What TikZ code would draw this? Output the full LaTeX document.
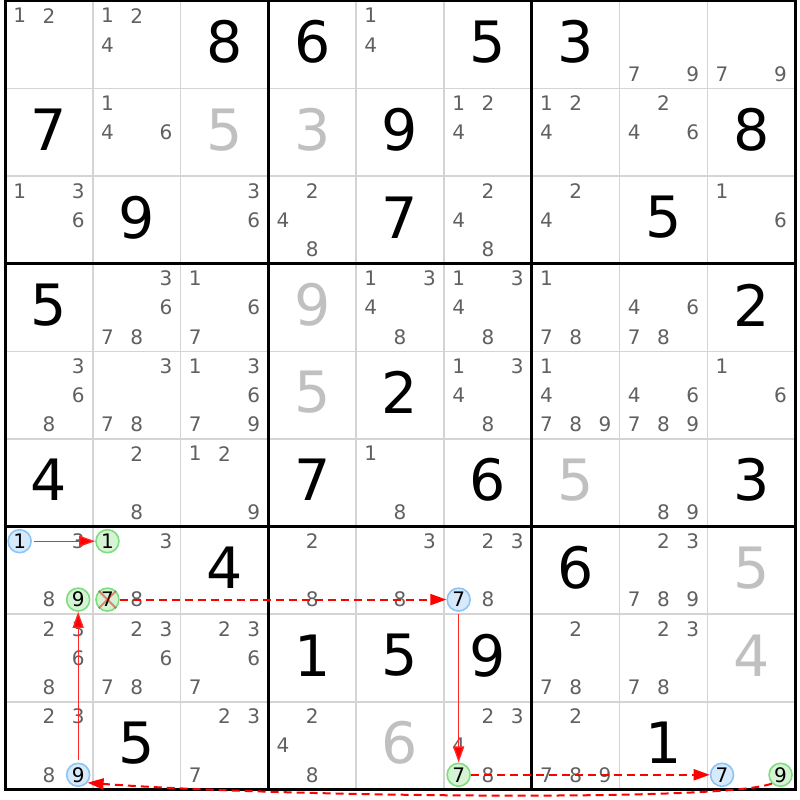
\documentclass[tikz,border=0pt]{standalone}
\usepackage{fontspec}
\setmainfont{DejaVu Sans}
\usetikzlibrary{arrows.meta}

\definecolor{candgray}{RGB}{96,96,96}
\definecolor{solvedgray}{RGB}{192,192,192}
\definecolor{thingrid}{RGB}{212,212,212}
\definecolor{onblue}{RGB}{140,196,244}
\definecolor{onbluefill}{RGB}{214,234,252}
\definecolor{offgreen}{RGB}{128,220,128}
\definecolor{offgreenfill}{RGB}{212,244,212}
\definecolor{linkred}{RGB}{255,0,0}

\begin{document}
\begin{tikzpicture}[x=87.8pt,y=-87.6pt,
  cand/.style={font=\fontsize{20}{20}\selectfont,text=candgray,inner sep=0pt},
  given/.style={font=\fontsize{57}{57}\selectfont,inner sep=0pt},
  solved/.style={given,text=solvedgray},
  oncand/.style={circle,draw=onblue,fill=onbluefill,line width=1.6pt,minimum size=23pt,inner sep=0pt,font=\fontsize{20}{20}\selectfont},
  offcand/.style={oncand,draw=offgreen,fill=offgreenfill},
  strong/.style={draw=linkred!85!white,line width=1.3pt,shorten <=2pt,-{Triangle[length=16pt,width=11pt,fill=linkred]}},
  weak/.style={draw=linkred,line width=2pt,dash pattern=on 8pt off 5pt,-{Triangle[length=16pt,width=11pt,fill=linkred]}},
  crossout/.style={draw=linkred,opacity=.45,line width=2pt}]

\useasboundingbox (-0.057,-0.0114) rectangle (9.0547,9.121);

% grid
\foreach \i in {1,2,4,5,7,8} {
  \draw[thingrid,line width=1.5pt] (\i,0) -- (\i,9);
  \draw[thingrid,line width=1.5pt] (0,\i) -- (9,\i);
}
\foreach \i in {0,3,6,9} {
  \draw[line width=3pt] (\i,-0.017) -- (\i,9.017);
  \draw[line width=3pt] (-0.017,\i) -- (9.017,\i);
}

% given digits
\foreach \r/\c/\v in {1/3/8, 1/4/6, 1/6/5, 1/7/3, 2/1/7, 2/5/9, 2/9/8, 3/2/9, 3/5/7, 3/8/5,
  4/1/5, 4/9/2, 5/5/2, 6/1/4, 6/4/7, 6/6/6, 6/9/3, 7/3/4, 7/7/6, 8/4/1, 8/5/5, 8/6/9,
  9/2/5, 9/8/1}
  \node[given] at (\c-0.5,\r-0.53) {\v};

% solved digits
\foreach \r/\c/\v in {2/3/5, 2/4/3, 4/4/9, 5/4/5, 6/7/5, 7/9/5, 8/9/4, 9/5/6}
  \node[solved] at (\c-0.5,\r-0.53) {\v};

% candidates
\foreach \r/\c/\ds in {
  1/1/{1,2}, 1/2/{1,2,4}, 1/5/{1,4}, 1/8/{7,9}, 1/9/{7,9},
  2/2/{1,4,6}, 2/6/{1,2,4}, 2/7/{1,2,4}, 2/8/{2,4,6},
  3/1/{1,3,6}, 3/3/{3,6}, 3/4/{2,4,8}, 3/6/{2,4,8}, 3/7/{2,4}, 3/9/{1,6},
  4/2/{3,6,7,8}, 4/3/{1,6,7}, 4/5/{1,3,4,8}, 4/6/{1,3,4,8}, 4/7/{1,7,8}, 4/8/{4,6,7,8},
  5/1/{3,6,8}, 5/2/{3,7,8}, 5/3/{1,3,6,7,9}, 5/6/{1,3,4,8}, 5/7/{1,4,7,8,9}, 5/8/{4,6,7,8,9}, 5/9/{1,6},
  6/2/{2,8}, 6/3/{1,2,9}, 6/5/{1,8}, 6/8/{8,9},
  7/1/{3,8}, 7/2/{3,8}, 7/4/{2,8}, 7/5/{3,8}, 7/6/{2,3,8}, 7/8/{2,3,7,8,9},
  8/1/{2,3,6,8}, 8/2/{2,3,6,7,8}, 8/3/{2,3,6,7}, 8/7/{2,7,8}, 8/8/{2,3,7,8},
  9/1/{2,3,8}, 9/3/{2,3,7}, 9/4/{2,4,8}, 9/6/{2,3,4,8}, 9/7/{2,7,8,9}}
  \foreach \d in \ds
    \node[cand] at ({\c-1+(mod(\d-1,3)+0.5)/3},{\r-1+(int((\d-1)/3)+0.5)/3}) {\d};

% chain candidates
\node[oncand] (r7c1n1) at (0.1667,6.1667) {1};
\node[offcand] (r7c2n1) at (1.1667,6.1667) {1};
\node[offcand] (r7c1n9) at (0.8333,6.8333) {9};
\node[offcand] (r7c2n7) at (1.1667,6.8333) {7};
\node[oncand] (r7c6n7) at (5.1667,6.8333) {7};
\node[offcand] (r9c6n7) at (5.1667,8.8333) {7};
\node[oncand] (r9c9n7) at (8.1667,8.8333) {7};
\node[offcand] (r9c9n9) at (8.8333,8.8333) {9};
\node[oncand] (r9c1n9) at (0.8333,8.8333) {9};

% eliminated
\draw[crossout] (r7c2n7.north west) -- (r7c2n7.south east)
                (r7c2n7.north east) -- (r7c2n7.south west);

% links
\draw[strong] (r7c1n1) -- (r7c2n1);
\draw[weak] (r7c2n7) -- (r7c6n7);
\draw[strong] (r7c6n7) -- (r9c6n7);
\draw[weak] (r9c6n7) -- (r9c9n7);
\draw[weak] (r9c9n9.225) .. controls (8.2,9.15) and (3,9.08) .. (r9c1n9.-40);
\draw[strong] (r9c1n9) -- (r7c1n9);
\end{tikzpicture}
\end{document}
